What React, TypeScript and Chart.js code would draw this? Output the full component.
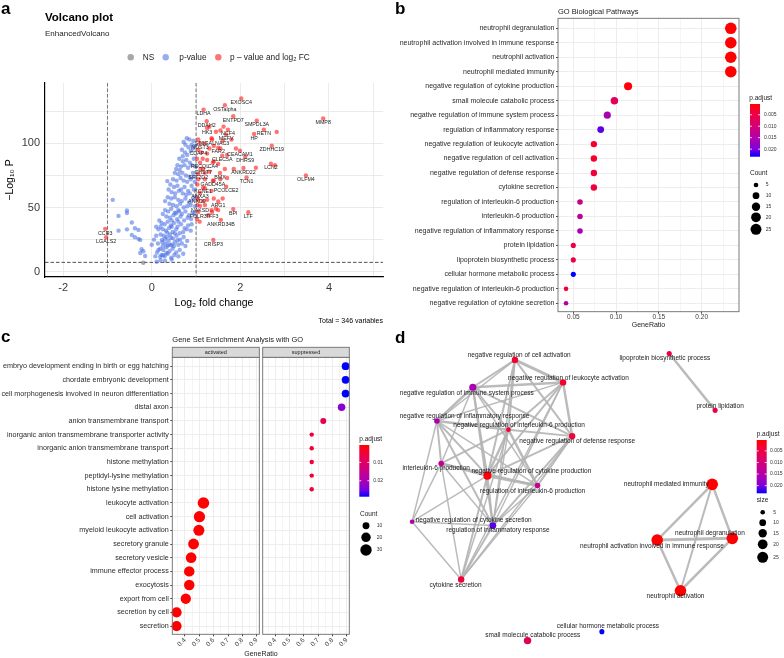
import React, { useEffect, useRef } from 'react';
import { Chart, registerables } from 'chart.js';

Chart.register(...registerables);

const FONT = '"Liberation Sans", Arial, Helvetica, sans-serif';

// ================= Panel a : volcano =================
const volcanoTitle = 'Volcano plot';
const volcanoSubtitle = 'EnhancedVolcano';
const volcanoCaption = 'Total = 346 variables';
const volcanoLegend = ['NS', 'p-value', 'p \u2013 value and log\u2082 FC'];
const volcanoXTitle = 'Log\u2082 fold change';
const volcanoYTitle = '\u2212Log\u2081\u2080 P';
const fcCutoff = 1;
const pCutoff = 7.3;
const volcanoXMajor = [-2, 0, 2, 4];
const volcanoXMajorLabels = ['-2', '0', '2', '4'];
const volcanoXMinor = [-1, 1, 3, 5];
const volcanoYMajor = [0, 50, 100];
const volcanoYMajorLabels = ['0', '50', '100'];
const volcanoYMinor = [25, 75, 125];

const nsPoints = [[-0.19, 7.0]];

const pvalPoints = [
  [0.72, 101], [0.79, 104], [0.85, 103], [0.76, 99], [0.83, 97], [0.9, 99], [0.68, 95], [0.75, 93], [0.88, 94], [0.8, 91], [0.7, 90], [0.93, 96], [0.94, 102], [0.97, 98],
  [0.62, 88], [0.7, 86], [0.78, 87], [0.86, 85], [0.58, 83], [0.66, 82], [0.74, 83], [0.82, 81], [0.9, 83], [0.55, 80], [0.95, 88], [0.63, 79], [0.99, 82],
  [0.52, 77], [0.6, 76], [0.69, 77], [0.77, 75], [0.85, 74], [0.93, 77], [0.48, 72], [0.56, 71], [0.65, 73], [0.72, 71], [0.8, 70], [0.88, 72], [0.35, 70.6], [0.96, 74], [0.97, 70],
  [0.42, 68], [0.5, 66], [0.58, 67], [0.66, 64], [0.74, 66], [0.82, 63], [0.9, 67], [0.45, 62], [0.53, 61], [0.61, 63], [0.7, 61], [0.78, 60], [0.86, 61], [0.95, 64], [0.38, 64],
  [0.36, 58], [0.44, 57], [0.52, 58], [0.6, 56], [0.68, 55], [0.76, 57], [0.84, 54], [0.92, 56], [0.4, 53], [0.48, 52], [0.56, 51], [0.64, 53], [0.72, 50], [0.8, 51], [0.88, 52], [0.97, 58], [0.3, 55], [0.98, 51],
  [0.3, 48], [0.37, 47], [0.44, 49], [0.52, 46], [0.6, 48], [0.68, 45], [0.76, 47], [0.84, 44], [0.92, 46], [0.33, 43], [0.41, 42], [0.49, 44], [0.57, 41], [0.65, 43], [0.73, 40], [0.81, 42], [0.45, 40], [0.25, 45], [0.62, 47], [0.55, 45.5], [0.96, 45], [0.89, 41],
  [0.22, 38], [0.29, 37], [0.36, 39], [0.43, 36], [0.5, 38], [0.58, 35], [0.66, 37], [0.74, 34], [0.82, 36], [0.25, 33], [0.32, 32], [0.39, 34], [0.47, 31], [0.55, 33], [0.63, 30], [0.71, 31], [0.79, 33], [0.88, 32], [0.45, 35], [0.6, 39], [0.35, 30.5], [0.52, 30], [0.2, 35], [0.9, 37],
  [0.2, 29], [0.27, 28], [0.34, 27], [0.41, 29], [0.48, 26], [0.56, 28], [0.64, 25], [0.72, 27], [0.8, 24], [0.24, 23], [0.31, 22], [0.38, 24], [0.45, 21], [0.52, 23], [0.6, 21], [0.68, 22], [0.76, 20], [0.3, 25.5], [0.43, 26.5], [0.5, 20], [0.58, 24.5], [0.36, 20.5],
  [0.19, 18], [0.26, 17], [0.33, 19], [0.4, 16], [0.47, 18], [0.55, 15], [0.63, 17], [0.71, 14], [0.22, 13], [0.29, 12], [0.36, 14], [0.44, 11], [0.51, 13], [0.6, 12], [0.19, 11.7], [0.33, 14.6], [0.25, 20], [0.41, 20.9],
  [0.11, 7.8], [0.2, 9], [0.3, 8.5], [0.45, 9.5], [0.23, 24.8], [0.15, 17], [0.26, 13],
  [-0.88, 56], [-0.75, 43.5], [-0.56, 47.7], [-0.56, 45.8], [-0.45, 38.3], [-0.75, 32], [-0.56, 33], [-0.38, 33.9], [-0.3, 32.6], [-0.45, 28.7], [-0.38, 26.9], [-0.3, 25.6], [-0.26, 24.8], [-0.23, 17.5], [-0.19, 16], [-0.26, 14.6], [-0.15, 12.3],
  [0.0, 21], [0.05, 25], [0.1, 28], [0.12, 15], [0.15, 33], [0.08, 12], [0.14, 22], [0.17, 40], [0.1, 35],
];

const sigGenes = ['EXOSC4', 'OSTalpha', 'LDHA', 'ENTPD7', 'MMP8', 'SMPDL3A', 'DDAH2', 'HK3', 'RETN', 'NCF4', 'MEFV', 'HP', 'ST6GALNAC3', 'NDST3', 'CDAP4', 'FAR2', 'CEACAM1', 'CLEC5A', 'DHRS9', 'ZDHHC19', 'LCN2', 'RECQL', 'CA4', 'ANKRD22', 'CHST7', 'SFT2D2', 'BMX', 'OLFM4', 'TCN1', 'GADD45A', 'PCOLCE2', 'KCNE1', 'ANXA3', 'ANXD9', 'ARG1', 'NAKSD', 'BPI', 'LTF', 'FOLR3', 'TFF3', 'ANKRD34B', 'CRISP3', 'CCR3', 'LGALS2'];
const sigFC = [2.02, 1.65, 1.17, 1.84, 3.87, 2.37, 1.24, 1.25, 2.53, 1.72, 1.68, 2.31, 1.36, 1.09, 1.05, 1.5, 1.99, 1.59, 2.11, 2.71, 2.69, 1.09, 1.38, 2.07, 1.16, 1.05, 1.54, 3.48, 2.14, 1.38, 1.68, 1.16, 1.09, 1.02, 1.5, 1.09, 1.84, 2.18, 1.05, 1.36, 1.56, 1.39, -1.05, -1.03];
const sigLogP = [134.9, 129.7, 126.3, 121.1, 119.3, 117.7, 117.2, 111.9, 110.7, 110.7, 106.8, 107.3, 103, 99.8, 95, 96.6, 94.3, 90.4, 89.6, 98.2, 84.1, 85, 85, 80.8, 80.2, 76.3, 76.9, 75, 73.4, 70.9, 66.2, 65.4, 61.5, 58, 54.7, 51.3, 48.8, 46.4, 46.6, 46.6, 40.4, 24.8, 33.4, 26.9];
const sigOther = [
  [2.82, 108.9], [1.3, 113], [1.55, 110], [1.62, 113], [1.45, 109], [1.35, 104], [1.8, 103], [1.05, 103], [1.2, 100], [1.4, 98], [1.3, 96], [1.55, 96], [1.7, 91], [1.15, 88], [1.25, 87], [1.4, 86], [1.5, 84], [1.02, 88], [1.1, 80], [1.2, 77], [1.3, 78], [1.65, 80], [1.85, 80], [2.35, 81], [2.78, 83],
  [1.05, 72], [1.2, 72], [1.4, 71], [1.55, 72], [1.7, 73], [1.03, 68], [1.2, 65], [1.35, 63], [1.05, 56], [1.15, 55], [1.25, 56], [1.4, 57], [1.6, 57], [1.03, 52], [1.2, 52], [1.35, 48], [1.5, 48], [1.02, 41], [1.08, 39], [1.45, 49], [1.28, 44], [1.6, 102], [1.9, 96], [1.25, 92], [1.12, 93],
];

// ================= Panel b : GO dot plot =================
const goTitle = 'GO Biological Pathways';
const goTerms = [
  'neutrophil degranulation',
  'neutrophil activation involved in immune response',
  'neutrophil activation',
  'neutrophil mediated immunity',
  'negative regulation of cytokine production',
  'small molecule catabolic process',
  'negative regulation of immune system process',
  'regulation of inflammatory response',
  'negative regulation of leukocyte activation',
  'negative regulation of cell activation',
  'negative regulation of defense response',
  'cytokine secretion',
  'regulation of interleukin-6 production',
  'interleukin-6 production',
  'negative regulation of inflammatory response',
  'protein lipidation',
  'lipoprotein biosynthetic process',
  'cellular hormone metabolic process',
  'negative regulation of interleukin-6 production',
  'negative regulation of cytokine secretion',
];
const goRatio = [0.234, 0.234, 0.234, 0.234, 0.114, 0.098, 0.0897, 0.082, 0.074, 0.074, 0.074, 0.074, 0.0578, 0.0578, 0.0578, 0.05, 0.05, 0.05, 0.0415, 0.0415];
const goPadj = [0.0003, 0.0003, 0.0003, 0.0003, 0.0008, 0.007, 0.016, 0.021, 0.003, 0.003, 0.004, 0.004, 0.012, 0.013, 0.016, 0.005, 0.005, 0.0233, 0.004, 0.015];
const goCount = [28, 28, 28, 28, 14, 12, 11, 10, 9, 9, 9, 9, 7, 7, 7, 6, 6, 6, 5, 5];
const goXMajor = [0.05, 0.1, 0.15, 0.2];
const goXMajorLabels = ['0.05', '0.10', '0.15', '0.20'];
const goXMinor = [0.075, 0.125, 0.175, 0.225];
const goPadjTicks = [0.005, 0.01, 0.015, 0.02];
const goPadjTickLabels = ['0.005', '0.010', '0.015', '0.020'];
const goCountLegend = [5, 10, 15, 20, 25];

// ================= Panel c : GSEA =================
const gseaTitle = 'Gene Set Enrichment Analysis with GO';
const gseaTerms = [
  'embryo development ending in birth or egg hatching',
  'chordate embryonic development',
  'cell morphogenesis involved in neuron differentiation',
  'distal axon',
  'anion transmembrane transport',
  'inorganic anion transmembrane transporter activity',
  'inorganic anion transmembrane transport',
  'histone methylation',
  'peptidyl-lysine methylation',
  'histone lysine methylation',
  'leukocyte activation',
  'cell activation',
  'myeloid leukocyte activation',
  'secretory granule',
  'secretory vesicle',
  'immune effector process',
  'exocytosis',
  'export from cell',
  'secretion by cell',
  'secretion',
];
const gseaGroup = ['suppressed', 'suppressed', 'suppressed', 'suppressed', 'suppressed', 'suppressed', 'suppressed', 'suppressed', 'suppressed', 'suppressed', 'activated', 'activated', 'activated', 'activated', 'activated', 'activated', 'activated', 'activated', 'activated', 'activated'];
const gseaRatio = [0.892, 0.892, 0.892, 0.864, 0.736, 0.655, 0.655, 0.655, 0.655, 0.655, 0.529, 0.501, 0.497, 0.46, 0.443, 0.43, 0.43, 0.406, 0.342, 0.342];
const gseaPadj = [0.0287, 0.0287, 0.0287, 0.0231, 0.008, 0.0048, 0.0048, 0.0048, 0.0048, 0.0048, 0.0005, 0.0005, 0.0005, 0.0005, 0.0005, 0.0005, 0.0005, 0.0005, 0.0005, 0.0005];
const gseaCount = [13, 13, 13, 12, 7, 3, 3, 3, 3, 3, 31, 29, 28, 27, 26, 25, 25, 24, 23, 23];
const gseaFacets = ['activated', 'suppressed'];
const gseaXMajor = [0.4, 0.5, 0.6, 0.7, 0.8, 0.9];
const gseaXMajorLabels = ['0.4', '0.5', '0.6', '0.7', '0.8', '0.9'];
const gseaXMinor = [0.35, 0.45, 0.55, 0.65, 0.75, 0.85];
const gseaPadjTicks = [0.01, 0.02];
const gseaPadjTickLabels = ['0.01', '0.02'];
const gseaCountLegend = [10, 20, 30];

// ================= Panel d : enrichment map =================
// layout coordinates of the nodes, in the order of goTerms
const netX = [34.47, 26.73, 29.13, 32.4, 9.23, 13.37, 7.73, 9.8, 17.03, 12.07, 17.97, 6.53, 14.4, 4.47, 4.03, 32.7, 27.97, 21.03, 11.4, 1.47];
const netY = [11.8, 11.63, 6.37, 17.4, 18.3, 1.2, 27.47, 13.13, 27.97, 30.3, 22.4, 7.53, 17.27, 19.57, 23.97, 25.07, 30.97, 2.13, 23.07, 13.53];
// edges: [from, to, similarity weight]
const netEdges = [
  [9, 8, 3], [9, 6, 2], [9, 18, 2], [9, 10, 2], [9, 4, 2], [9, 7, 1.5], [9, 14, 1.5],
  [8, 6, 2.5], [8, 18, 2], [8, 10, 2.5], [8, 4, 2], [8, 7, 1.5], [8, 14, 1.5], [8, 11, 1.5],
  [6, 14, 2.5], [6, 18, 2], [6, 10, 2], [6, 13, 1.5], [6, 4, 2], [6, 7, 2], [6, 12, 1.5],
  [14, 18, 2.5], [14, 13, 2], [14, 4, 2], [14, 7, 2], [14, 19, 1.5], [14, 12, 1.5],
  [18, 10, 2], [18, 13, 2], [18, 4, 2.5], [18, 12, 2.5], [18, 7, 1.5], [18, 11, 1.5],
  [10, 4, 2], [10, 12, 2], [10, 7, 2], [10, 11, 1.5],
  [13, 4, 2.5], [13, 19, 1.5], [13, 12, 2], [13, 7, 1.5], [13, 11, 1.5],
  [4, 12, 3], [4, 19, 1.5], [4, 7, 2], [4, 11, 2],
  [12, 7, 1.5], [12, 11, 1.5], [19, 7, 1.5], [19, 11, 1.5], [7, 11, 2],
  [0, 1, 3], [0, 2, 2.5], [0, 3, 2.5], [1, 2, 2.5], [1, 3, 2.5], [2, 3, 2],
  [15, 16, 2.5],
];
const netLabelDx = [-22.4, -5.3, -5, -46, 44, 5.3, -6, 5, 5.4, 4.3, 5, -5.6, -5, -5, 27.7, 5, -4.4, 6, 10.7, 61.6];
const netLabelDy = [-4.7, 6, 5, 0, -4.3, -5, 5.7, 5, -4.3, -4.3, 5, 5.6, 5.4, 5, -4.3, -4.6, 5, -5, -4.6, -1];

// ================= helpers =================
const PAL_T = [0, 0.125, 0.25, 0.375, 0.5, 0.625, 0.75, 0.875, 1];
const PAL_RGB = [[255, 0, 0], [244, 0, 49], [232, 0, 80], [218, 0, 108], [201, 0, 136], [181, 0, 165], [154, 0, 194], [115, 0, 224], [0, 0, 255]];

function palette(t: number) {
  t = Math.max(0, Math.min(1, t));
  for (let i = 1; i < PAL_T.length; i++) {
    if (t <= PAL_T[i]) {
      const f = (t - PAL_T[i - 1]) / (PAL_T[i] - PAL_T[i - 1]);
      const a = PAL_RGB[i - 1];
      const b = PAL_RGB[i];
      return `rgb(${Math.round(a[0] + (b[0] - a[0]) * f)},${Math.round(a[1] + (b[1] - a[1]) * f)},${Math.round(a[2] + (b[2] - a[2]) * f)})`;
    }
  }
  return 'rgb(0,0,255)';
}
function lims(arr: number[]) {
  return [Math.min(...arr), Math.max(...arr)];
}
function areaRadius(c: number, cmin: number, cmax: number, rmin: number, rmax: number) {
  const f = Math.max(0, Math.min(1, (c - cmin) / (cmax - cmin)));
  return Math.sqrt(rmin * rmin + (rmax * rmax - rmin * rmin) * f);
}
const goP = lims(goPadj);
const goC = lims(goCount);
const goR = (c: number) => areaRadius(c, goC[0], goC[1], 2.3, 5.8);
const gsP = lims(gseaPadj);
const gsC = lims(gseaCount);
const gsR = (c: number) => areaRadius(c, gsC[0], gsC[1], 2.2, 5.8);

function txt(ctx: any, s: string, x: number, y: number, size: number, o: any = {}) {
  ctx.save();
  ctx.font = `${o.bold ? 'bold ' : ''}${size}px ${FONT}`;
  ctx.fillStyle = o.color || '#000';
  ctx.textAlign = o.align || 'left';
  ctx.textBaseline = o.baseline || 'middle';
  if (o.rotate) {
    ctx.translate(x, y);
    ctx.rotate(o.rotate);
    ctx.fillText(s, 0, 0);
  } else {
    ctx.fillText(s, x, y);
  }
  ctx.restore();
}

function tickSet(major: number[], minor: number[]) {
  return [...major, ...minor].sort((a, b) => a - b).map((v) => ({ value: v }));
}
function majorIndex(major: number[], v: number) {
  return major.findIndex((m) => Math.abs(m - v) < 1e-9);
}

function drawColorbar(ctx: any, title: string, tx: number, ty: number, x: number, y: number, w: number, h: number, p: number[], ticks: number[], labels: string[], lx: number) {
  txt(ctx, title, tx, ty, 6.5, { color: '#222' });
  const g = ctx.createLinearGradient(0, y, 0, y + h);
  for (let k = 0; k <= 16; k++) g.addColorStop(k / 16, palette(k / 16));
  ctx.save();
  ctx.fillStyle = g;
  ctx.fillRect(x, y, w, h);
  ctx.strokeStyle = '#fff';
  ctx.lineWidth = 0.8;
  ticks.forEach((v, i) => {
    const py = y + ((v - p[0]) / (p[1] - p[0])) * h;
    ctx.beginPath();
    ctx.moveTo(x, py);
    ctx.lineTo(x + 2, py);
    ctx.moveTo(x + w - 2, py);
    ctx.lineTo(x + w, py);
    ctx.stroke();
    txt(ctx, labels[i], lx, py, 5, { color: '#333' });
  });
  ctx.restore();
}

function drawSizeLegend(ctx: any, title: string, tx: number, ty: number, cx: number, ys: number[], counts: number[], rfn: any, lx: number) {
  txt(ctx, title, tx, ty, 6.5, { color: '#222' });
  ctx.save();
  ctx.fillStyle = '#000';
  counts.forEach((c, i) => {
    ctx.beginPath();
    ctx.arc(cx, ys[i], rfn(c), 0, Math.PI * 2);
    ctx.fill();
    txt(ctx, String(c), lx, ys[i], 5, { color: '#333' });
  });
  ctx.restore();
}

function panelBorder(chart: any) {
  const { ctx, chartArea: a } = chart;
  ctx.save();
  ctx.strokeStyle = '#6e6e6e';
  ctx.lineWidth = 0.9;
  ctx.strokeRect(a.left, a.top, a.right - a.left, a.bottom - a.top);
  ctx.restore();
}

function strip(chart: any, label: string) {
  const { ctx, chartArea: a } = chart;
  ctx.save();
  ctx.fillStyle = '#d9d9d9';
  ctx.strokeStyle = '#6e6e6e';
  ctx.lineWidth = 0.9;
  ctx.fillRect(a.left, a.top - 10, a.right - a.left, 10);
  ctx.strokeRect(a.left, a.top - 10, a.right - a.left, 10);
  ctx.restore();
  txt(ctx, label, (a.left + a.right) / 2, a.top - 5, 5.5, { align: 'center', color: '#1a1a1a' });
}

const baseOpts = {
  animation: false,
  responsive: false,
  events: [],
  plugins: { legend: { display: false }, tooltip: { enabled: false }, title: { display: false } },
};

// ================= configs =================
function volcanoConfig() {
  const pts = (arr: number[][]) => arr.map(([x, y]) => ({ x, y }));
  const red = [...sigFC.map((x, i) => ({ x, y: sigLogP[i], label: sigGenes[i] })), ...pts(sigOther)];
  const plugin = {
    id: 'volcanoDecor',
    beforeDatasetsDraw(chart: any) {
      const { ctx, chartArea: a, scales } = chart;
      ctx.save();
      ctx.strokeStyle = '#555';
      ctx.lineWidth = 0.8;
      ctx.setLineDash([3.5, 2]);
      [-fcCutoff, fcCutoff].forEach((v) => {
        const px = scales.x.getPixelForValue(v);
        ctx.beginPath();
        ctx.moveTo(px, a.top);
        ctx.lineTo(px, a.bottom);
        ctx.stroke();
      });
      ctx.strokeStyle = '#222';
      const py = scales.y.getPixelForValue(pCutoff);
      ctx.beginPath();
      ctx.moveTo(a.left, py);
      ctx.lineTo(a.right, py);
      ctx.stroke();
      ctx.restore();
    },
    afterDatasetsDraw(chart: any) {
      const { ctx } = chart;
      const meta = chart.getDatasetMeta(2);
      const data = chart.data.datasets[2].data;
      meta.data.forEach((el: any, i: number) => {
        const d = data[i];
        if (d.label) txt(ctx, d.label, el.x, el.y + 4.2, 5.3, { align: 'center', color: '#222' });
      });
    },
    afterDraw(chart: any) {
      const { ctx, chartArea: a } = chart;
      txt(ctx, 'a', 1, 14, 17, { bold: true, baseline: 'alphabetic' });
      txt(ctx, volcanoTitle, 45, 20.7, 11.5, { bold: true, baseline: 'alphabetic' });
      txt(ctx, volcanoSubtitle, 45, 35.5, 8, { baseline: 'alphabetic', color: '#222' });
      const lc = ['rgba(120,120,120,0.65)', 'rgba(65,105,225,0.55)', 'rgba(255,0,0,0.55)'];
      const cx = [130.7, 165.7, 218.3];
      const tx = [142.7, 179.3, 230];
      lc.forEach((c, i) => {
        ctx.save();
        ctx.fillStyle = c;
        ctx.beginPath();
        ctx.arc(cx[i], 57.3, 3.2, 0, Math.PI * 2);
        ctx.fill();
        ctx.restore();
        txt(ctx, volcanoLegend[i], tx[i], 57.3, 8.3, { color: '#222' });
      });
      txt(ctx, volcanoYTitle, 10, (a.top + a.bottom) / 2, 10.5, { align: 'center', rotate: -Math.PI / 2 });
      txt(ctx, volcanoXTitle, (a.left + a.right) / 2, 302.7, 10.5, { align: 'center' });
      txt(ctx, volcanoCaption, a.right, 321, 7, { align: 'right' });
    },
  };
  return {
    type: 'scatter',
    data: {
      datasets: [
        { data: pts(nsPoints), pointBackgroundColor: 'rgba(120,120,120,0.65)', pointRadius: 2.2, pointBorderWidth: 0, clip: false },
        { data: pts(pvalPoints), pointBackgroundColor: 'rgba(65,105,225,0.55)', pointRadius: 2.2, pointBorderWidth: 0, clip: false },
        { data: red, pointBackgroundColor: 'rgba(255,0,0,0.55)', pointRadius: 2.2, pointBorderWidth: 0, clip: false },
      ],
    },
    options: {
      ...baseOpts,
      layout: { padding: { top: 83, right: 9, left: 0, bottom: 0 } },
      scales: {
        x: {
          type: 'linear', min: -2.41, max: 5.22,
          afterBuildTicks: (s: any) => { s.ticks = tickSet(volcanoXMajor, volcanoXMinor); },
          afterFit: (s: any) => { s.height = 53; },
          ticks: {
            autoSkip: false, maxRotation: 0, padding: 4, color: '#3a3a3a', font: { family: FONT, size: 11 },
            callback: (v: number) => { const i = majorIndex(volcanoXMajor, v); return i >= 0 ? volcanoXMajorLabels[i] : ''; },
          },
          grid: { color: '#e6e6e6', lineWidth: 0.8, drawTicks: false },
          border: { color: '#000', width: 1.2 },
        },
        y: {
          type: 'linear', min: -4.1, max: 147,
          afterBuildTicks: (s: any) => { s.ticks = tickSet(volcanoYMajor, volcanoYMinor); },
          afterFit: (s: any) => { s.width = 45; },
          ticks: {
            autoSkip: false, padding: 5, color: '#3a3a3a', font: { family: FONT, size: 11 },
            callback: (v: number) => { const i = majorIndex(volcanoYMajor, v); return i >= 0 ? volcanoYMajorLabels[i] : ''; },
          },
          grid: { color: '#e6e6e6', lineWidth: 0.8, drawTicks: false },
          border: { color: '#000', width: 1.2 },
        },
      },
    },
    plugins: [plugin],
  };
}

function goConfig() {
  const plugin = {
    id: 'goDecor',
    afterDatasetsDraw(chart: any) { panelBorder(chart); },
    afterDraw(chart: any) {
      const { ctx, chartArea: a } = chart;
      txt(ctx, 'b', 3, 14, 17, { bold: true, baseline: 'alphabetic' });
      txt(ctx, goTitle, a.left, 11.7, 7.5, { color: '#222' });
      txt(ctx, 'GeneRatio', (a.left + a.right) / 2, 325, 7, { align: 'center', color: '#222' });
      drawColorbar(ctx, 'p.adjust', 357.3, 98.3, 358, 104, 10, 52.7, goP, goPadjTicks, goPadjTickLabels, 372);
      drawSizeLegend(ctx, 'Count', 358, 173.3, 364, [185, 195.7, 206.7, 217.3, 229.3], goCountLegend, goR, 373.7);
    },
  };
  return {
    type: 'scatter',
    data: {
      datasets: [{
        data: goRatio.map((x, i) => ({ x, y: i })),
        pointBackgroundColor: goPadj.map((p) => palette((p - goP[0]) / (goP[1] - goP[0]))),
        pointRadius: goCount.map((c) => goR(c)),
        pointBorderWidth: 0,
        clip: false,
      }],
    },
    options: {
      ...baseOpts,
      layout: { padding: { top: 18.3, right: 45, left: 0, bottom: 0 } },
      scales: {
        x: {
          type: 'linear', min: 0.0321, max: 0.2436,
          afterBuildTicks: (s: any) => { s.ticks = tickSet(goXMajor, goXMinor); },
          afterFit: (s: any) => { s.height = 18.3; },
          ticks: {
            autoSkip: false, maxRotation: 0, padding: 0, color: '#3a3a3a', font: { family: FONT, size: 6.5 },
            callback: (v: number) => { const i = majorIndex(goXMajor, v); return i >= 0 ? goXMajorLabels[i] : ''; },
          },
          grid: {
            color: '#ebebeb',
            lineWidth: (c: any) => (c.tick && majorIndex(goXMajor, c.tick.value) >= 0 ? 0.9 : 0.5),
            tickColor: (c: any) => (c.tick && majorIndex(goXMajor, c.tick.value) >= 0 ? '#333' : 'rgba(0,0,0,0)'),
            tickLength: 2,
          },
          border: { display: false },
        },
        y: {
          type: 'linear', min: -0.69, max: 19.58, reverse: true,
          afterBuildTicks: (s: any) => { s.ticks = goTerms.map((_, i) => ({ value: i })); },
          afterFit: (s: any) => { s.width = 166; },
          ticks: {
            autoSkip: false, padding: 1.5, color: '#2a2a2a', font: { family: FONT, size: 7 },
            callback: (v: number) => goTerms[v],
          },
          grid: { color: '#ebebeb', lineWidth: 0.9, tickColor: '#333', tickLength: 2 },
          border: { display: false },
        },
      },
    },
    plugins: [plugin],
  };
}

function gseaConfig(facet: string, first: boolean) {
  const idx = gseaTerms.map((_, i) => i).filter((i) => gseaGroup[i] === facet);
  const plugin = {
    id: 'gseaDecor' + facet,
    afterDatasetsDraw(chart: any) { panelBorder(chart); },
    afterDraw(chart: any) {
      const { ctx } = chart;
      strip(chart, facet);
      if (first) {
        txt(ctx, 'c', 1, 12, 17, { bold: true, baseline: 'alphabetic' });
        txt(ctx, gseaTitle, chart.chartArea.left, 10, 7.5, { color: '#222' });
        txt(ctx, 'GeneRatio', 261, 324, 7, { align: 'center', color: '#222' });
        drawColorbar(ctx, 'p.adjust', 359.3, 109, 359.3, 115, 10, 51.7, gsP, gseaPadjTicks, gseaPadjTickLabels, 373.3);
        drawSizeLegend(ctx, 'Count', 360, 184.3, 366, [195.7, 207.3, 220], gseaCountLegend, gsR, 376.7);
      }
    },
  };
  return {
    type: 'scatter',
    data: {
      datasets: [{
        data: idx.map((i) => ({ x: gseaRatio[i], y: i })),
        pointBackgroundColor: idx.map((i) => palette((gseaPadj[i] - gsP[0]) / (gsP[1] - gsP[0]))),
        pointRadius: idx.map((i) => gsR(gseaCount[i])),
        pointBorderWidth: 0,
        clip: false,
      }],
    },
    options: {
      ...baseOpts,
      layout: { padding: first ? { top: 27.3, right: 132.7, left: 0, bottom: 0 } : { top: 27.3, right: 42.7, left: 262.7, bottom: 0 } },
      scales: {
        x: {
          type: 'linear', min: 0.312, max: 0.918,
          afterBuildTicks: (s: any) => { s.ticks = tickSet(gseaXMajor, gseaXMinor); },
          afterFit: (s: any) => { s.height = 23.7; },
          ticks: {
            autoSkip: false, minRotation: 45, maxRotation: 45, padding: 0, color: '#3a3a3a', font: { family: FONT, size: 6.5 },
            callback: (v: number) => { const i = majorIndex(gseaXMajor, v); return i >= 0 ? gseaXMajorLabels[i] : ''; },
          },
          grid: {
            color: '#ebebeb',
            lineWidth: (c: any) => (c.tick && majorIndex(gseaXMajor, c.tick.value) >= 0 ? 0.9 : 0.5),
            tickColor: (c: any) => (c.tick && majorIndex(gseaXMajor, c.tick.value) >= 0 ? '#333' : 'rgba(0,0,0,0)'),
            tickLength: 2,
          },
          border: { display: false },
        },
        y: {
          type: 'linear', min: -0.65, max: 19.6, reverse: true,
          afterBuildTicks: (s: any) => { s.ticks = gseaTerms.map((_, i) => ({ value: i })); },
          afterFit: (s: any) => { s.width = first ? 172.3 : 0; },
          ticks: {
            display: first, autoSkip: false, padding: 1.5, color: '#2a2a2a', font: { family: FONT, size: 7.2 },
            callback: (v: number) => gseaTerms[v],
          },
          grid: { color: '#ebebeb', lineWidth: 0.9, tickColor: '#333', tickLength: 2, drawTicks: first },
          border: { display: false },
        },
      },
    },
    plugins: [plugin],
  };
}

function netConfig() {
  const plugin = {
    id: 'netDecor',
    beforeDatasetsDraw(chart: any) {
      const { ctx, scales } = chart;
      ctx.save();
      ctx.strokeStyle = 'rgba(180,180,180,0.9)';
      ctx.lineCap = 'round';
      netEdges.forEach(([a, b, w]) => {
        ctx.lineWidth = w;
        ctx.beginPath();
        ctx.moveTo(scales.x.getPixelForValue(netX[a]), scales.y.getPixelForValue(netY[a]));
        ctx.lineTo(scales.x.getPixelForValue(netX[b]), scales.y.getPixelForValue(netY[b]));
        ctx.stroke();
      });
      ctx.restore();
    },
    afterDatasetsDraw(chart: any) {
      const { ctx } = chart;
      const meta = chart.getDatasetMeta(0);
      meta.data.forEach((el: any, i: number) => {
        txt(ctx, goTerms[i], el.x + netLabelDx[i], el.y + netLabelDy[i], 6.5, { align: 'center', color: '#1a1a1a' });
      });
    },
    afterDraw(chart: any) {
      const { ctx } = chart;
      txt(ctx, 'd', 3, 13, 17, { bold: true, baseline: 'alphabetic' });
      drawColorbar(ctx, 'p.adjust', 364.7, 104.3, 364.7, 110, 10, 53.3, goP, goPadjTicks, goPadjTickLabels, 378);
      drawSizeLegend(ctx, 'size', 364.7, 170.7, 370.7, [182.3, 192.7, 203.3, 214.3, 227.3], goCountLegend, goR, 381.3);
    },
  };
  return {
    type: 'scatter',
    data: {
      datasets: [{
        data: netX.map((x, i) => ({ x, y: netY[i] })),
        pointBackgroundColor: goPadj.map((p) => palette((p - goP[0]) / (goP[1] - goP[0]))),
        pointRadius: goCount.map((c) => goR(c)),
        pointBorderWidth: 0,
        clip: false,
      }],
    },
    options: {
      ...baseOpts,
      layout: { padding: 0 },
      scales: {
        x: { type: 'linear', min: 0, max: 39.2, display: false },
        y: { type: 'linear', min: 0, max: 32.8, display: false },
      },
    },
    plugins: [plugin],
  };
}

export default function App() {
  const aRef = useRef<HTMLCanvasElement>(null);
  const bRef = useRef<HTMLCanvasElement>(null);
  const c1Ref = useRef<HTMLCanvasElement>(null);
  const c2Ref = useRef<HTMLCanvasElement>(null);
  const dRef = useRef<HTMLCanvasElement>(null);

  useEffect(() => {
    const charts = [
      new Chart(aRef.current as any, volcanoConfig() as any),
      new Chart(bRef.current as any, goConfig() as any),
      new Chart(c1Ref.current as any, gseaConfig(gseaFacets[0], true) as any),
      new Chart(c2Ref.current as any, gseaConfig(gseaFacets[1], false) as any),
      new Chart(dRef.current as any, netConfig() as any),
    ];
    return () => charts.forEach((c) => c.destroy());
  }, []);

  const cv = (ref: any, left: number, top: number, w: number, h: number) => (
    <canvas ref={ref} width={w} height={h} style={{ position: 'absolute', left, top, width: w, height: h }} />
  );

  return (
    <div style={{ position: 'absolute', left: 0, top: 0, width: 784, height: 658, background: '#fff', overflow: 'hidden' }}>
      {cv(aRef, 0, 0, 392, 330)}
      {cv(bRef, 392, 0, 392, 330)}
      {cv(c1Ref, 0, 330, 392, 328)}
      {cv(c2Ref, 0, 330, 392, 328)}
      {cv(dRef, 392, 330, 392, 328)}
    </div>
  );
}
